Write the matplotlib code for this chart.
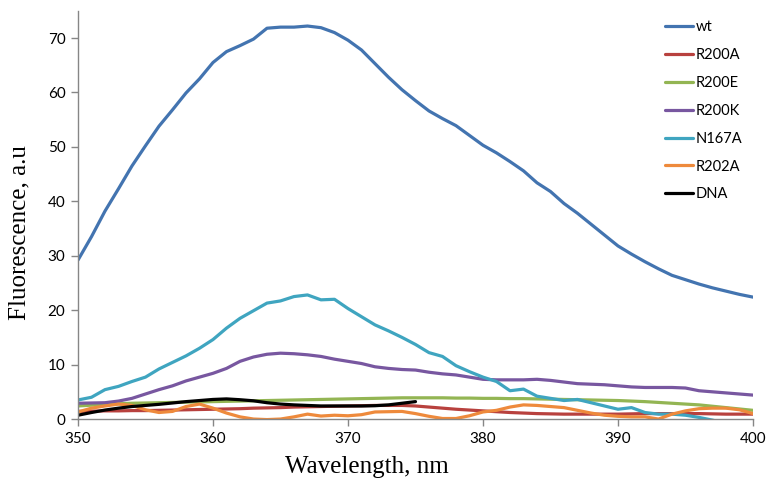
import matplotlib
matplotlib.use("Agg")
import matplotlib.pyplot as plt
import numpy as np

wavelength = list(range(350, 401))
dna_wavelength = list(range(350, 376))

wt = [29.2, 33.5, 38.2, 42.3, 46.5, 50.2, 53.8, 56.8, 59.9, 62.5,
      65.5, 67.5, 68.6, 69.8, 71.8, 72.0, 72.0, 72.2, 71.9, 71.0,
      69.6, 67.8, 65.3, 62.8, 60.5, 58.5, 56.6, 55.2, 53.9, 52.1,
      50.3, 48.9, 47.3, 45.6, 43.4, 41.8, 39.6, 37.8, 35.8, 33.8,
      31.8, 30.3, 28.9, 27.6, 26.4, 25.6, 24.8, 24.1, 23.5, 22.9, 22.4]
r200a = [1.4, 1.45, 1.5, 1.5, 1.55, 1.55, 1.6, 1.65, 1.7, 1.75,
         1.8, 1.85, 1.9, 2.0, 2.05, 2.1, 2.2, 2.25, 2.3, 2.35,
         2.4, 2.45, 2.5, 2.5, 2.5, 2.4, 2.2, 2.0, 1.8, 1.65,
         1.5, 1.35, 1.2, 1.1, 1.0, 0.95, 0.9, 0.9, 0.9, 0.9,
         0.9, 0.95, 1.0, 1.0, 1.0, 1.0, 1.0, 0.95, 0.9, 0.9, 0.9]
r200e = [2.4, 2.55, 2.7, 2.8, 2.9, 2.95, 3.0, 3.05, 3.1, 3.15,
         3.2, 3.25, 3.3, 3.35, 3.4, 3.45, 3.5, 3.55, 3.6, 3.65,
         3.7, 3.75, 3.8, 3.85, 3.9, 3.9, 3.9, 3.9, 3.85, 3.85,
         3.8, 3.8, 3.75, 3.75, 3.7, 3.65, 3.6, 3.55, 3.5, 3.45,
         3.4, 3.3, 3.2, 3.05, 2.9, 2.75, 2.6, 2.35, 2.1, 1.85, 1.6]
r200k = [2.9, 2.95, 3.0, 3.3, 3.8, 4.6, 5.4, 6.1, 7.0, 7.7,
         8.4, 9.3, 10.6, 11.4, 11.9, 12.1, 12.0, 11.8, 11.5, 11.0,
         10.6, 10.2, 9.6, 9.3, 9.1, 9.0, 8.6, 8.3, 8.1, 7.7,
         7.3, 7.2, 7.2, 7.2, 7.3, 7.1, 6.8, 6.5, 6.4, 6.3,
         6.1, 5.9, 5.8, 5.8, 5.8, 5.7, 5.2, 5.0, 4.8, 4.6, 4.4]
n167a = [3.5, 4.0, 5.4, 6.0, 6.9, 7.7, 9.2, 10.4, 11.6, 13.0,
         14.6, 16.7, 18.5, 19.9, 21.3, 21.7, 22.5, 22.8, 21.9, 22.0,
         20.3, 18.8, 17.3, 16.2, 15.0, 13.7, 12.2, 11.5, 9.8, 8.7,
         7.7, 6.9, 5.2, 5.5, 4.2, 3.8, 3.4, 3.6, 3.0, 2.4,
         1.8, 2.1, 1.2, 0.9, 0.9, 0.7, 0.3, -0.2, -0.8, -1.2, -1.5]
r202a = [1.3, 2.0, 2.4, 2.75, 2.5, 1.7, 1.2, 1.4, 2.3, 2.75,
         2.0, 1.1, 0.4, 0.0, -0.1, 0.0, 0.4, 0.9, 0.55, 0.7,
         0.6, 0.8, 1.3, 1.35, 1.4, 1.0, 0.5, 0.1, 0.1, 0.6,
         1.3, 1.6, 2.2, 2.6, 2.5, 2.3, 2.1, 1.6, 1.1, 0.7,
         0.5, 0.4, 0.4, 0.0, 0.9, 1.5, 1.9, 2.0, 2.0, 1.7, 1.0]
dna = [0.7, 1.2, 1.65, 2.0, 2.3, 2.5, 2.7, 2.95, 3.2, 3.4,
       3.6, 3.7, 3.55, 3.35, 3.0, 2.75, 2.6, 2.5, 2.4, 2.4,
       2.4, 2.4, 2.45, 2.6, 2.9, 3.2]

series_names = ["wt", "R200A", "R200E", "R200K", "N167A", "R202A", "DNA"]
colors = ["#4374B0", "#B8413E", "#93B553", "#7857A0", "#3FA5C0", "#EE8A3C", "#000000"]

x_ticks = [350, 360, 370, 380, 390, 400]
y_ticks = [0, 10, 20, 30, 40, 50, 60, 70]

fig = plt.figure(figsize=(7.69, 4.80), dpi=100)
ax = fig.add_axes([0.1014, 0.127, 0.8778, 0.8505])

data = [(wavelength, wt), (wavelength, r200a), (wavelength, r200e),
        (wavelength, r200k), (wavelength, n167a), (wavelength, r202a),
        (dna_wavelength, dna)]
for (xs, ys), name, c in zip(data, series_names, colors):
    ax.plot(xs, ys, color=c, lw=2.3, label=name, solid_capstyle="round",
            solid_joinstyle="round")

ax.set_xlim(350, 400)
ax.set_ylim(0, 75)
ax.set_xticks(x_ticks)
ax.set_yticks(y_ticks)
tick_font = "Lato"
ax.set_xticklabels([str(v) for v in x_ticks], fontsize=11, family=tick_font)
ax.set_yticklabels([str(v) for v in y_ticks], fontsize=11, family=tick_font)

for s in ["top", "right"]:
    ax.spines[s].set_visible(False)
for s in ["left", "bottom"]:
    ax.spines[s].set_color("#868686")
    ax.spines[s].set_linewidth(1.0)
ax.tick_params(axis="both", direction="out", length=5, color="#868686",
               width=1.0, pad=4)

ax.set_xlabel("Wavelength, nm", family="Liberation Serif", fontsize=18)
ax.set_ylabel("Fluorescence, a.u", family="Liberation Serif", fontsize=18)
ax.xaxis.set_label_coords(0.428, -0.118)
ax.yaxis.set_label_coords(-0.086, 0.458)
ax.xaxis.label.set_va("center")
ax.yaxis.label.set_va("center")

leg = fig.legend(loc="upper left", bbox_to_anchor=(0.848, 0.985), frameon=False,
                 prop={"family": tick_font, "size": 10.5}, handlelength=1.9,
                 handletextpad=0.2, labelspacing=0.95)
for line in leg.get_lines():
    line.set_linewidth(2.3)

fig.savefig("out.png", dpi=100)
